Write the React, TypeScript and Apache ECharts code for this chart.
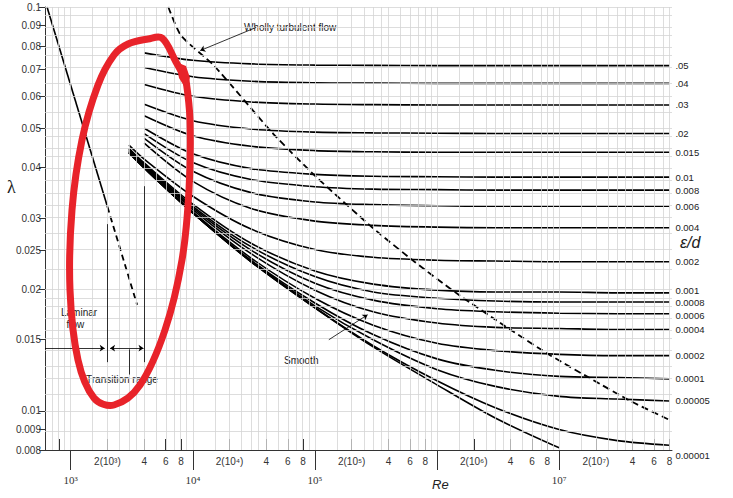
import React, { useEffect, useRef } from 'react';
import * as echarts from 'echarts';

const RE_GRID = [3e3, 4e3, 1e4, 3e4, 1e5, 3e5, 1e6, 3e6, 1e7, 3e7, 8e7];
const ROUGHNESS = ['.05', '.04', '.03', '.02', '0.015', '0.01', '0.008', '0.006', '0.004', '0.002', '0.001', '0.0008', '0.0006', '0.0004', '0.0002', '0.0001', '0.00005', '0.00001'];
const CURVES: (number | null)[][] = [
  [null, 0.0770, 0.0738, 0.0723, 0.0718, 0.0717, 0.0716, 0.0716, 0.0716, 0.0716, 0.0716],
  [null, 0.0708, 0.0672, 0.0655, 0.0649, 0.0648, 0.0647, 0.0647, 0.0647, 0.0647, 0.0647],
  [null, 0.0643, 0.0601, 0.0582, 0.0575, 0.0573, 0.0572, 0.0572, 0.0572, 0.0572, 0.0572],
  [null, 0.0574, 0.0523, 0.0499, 0.0490, 0.0488, 0.0487, 0.0486, 0.0486, 0.0486, 0.0486],
  [null, 0.0538, 0.0480, 0.0452, 0.0441, 0.0438, 0.0437, 0.0437, 0.0437, 0.0437, 0.0437],
  [null, 0.0501, 0.0433, 0.0398, 0.0385, 0.0381, 0.0380, 0.0379, 0.0379, 0.0379, 0.0379],
  [null, 0.0486, 0.0412, 0.0374, 0.0359, 0.0354, 0.0353, 0.0352, 0.0352, 0.0352, 0.0352],
  [null, 0.0473, 0.0392, 0.0347, 0.0329, 0.0324, 0.0322, 0.0321, 0.0321, 0.0321, 0.0321],
  [null, 0.0460, 0.0370, 0.0317, 0.0295, 0.0288, 0.0285, 0.0284, 0.0284, 0.0284, 0.0284],
  [0.0455, 0.0420, 0.0340, 0.0282, 0.0251, 0.0240, 0.0236, 0.0235, 0.0234, 0.0234, 0.0234],
  [0.0447, 0.0411, 0.0325, 0.0260, 0.0222, 0.0206, 0.0199, 0.0197, 0.0197, 0.0196, 0.0196],
  [0.0445, 0.0409, 0.0321, 0.0255, 0.0215, 0.0197, 0.0190, 0.0187, 0.0186, 0.0186, 0.0186],
  [0.0443, 0.0406, 0.0318, 0.0250, 0.0207, 0.0188, 0.0179, 0.0176, 0.01745, 0.0174, 0.0174],
  [0.0440, 0.0404, 0.0315, 0.0245, 0.0199, 0.0176, 0.0165, 0.0161, 0.0160, 0.0159, 0.0159],
  [0.0438, 0.0402, 0.0311, 0.0239, 0.0190, 0.0163, 0.0147, 0.0141, 0.0138, 0.0137, 0.0137],
  [0.0437, 0.0401, 0.0309, 0.0236, 0.0185, 0.01545, 0.01345, 0.0126, 0.01217, 0.0121, 0.0120],
  [0.0436, 0.0400, 0.0309, 0.0235, 0.0182, 0.0150, 0.01265, 0.0115, 0.01086, 0.0107, 0.01058],
  [0.0435, 0.0399, 0.0309, 0.0234, 0.0180, 0.0145, 0.01187, 0.01018, 0.00899, 0.00844, 0.00822],
];
const SMOOTH = [0.0435, 0.0399, 0.0309, 0.0234, 0.0180, 0.0144, 0.0116, 0.0096, 0.0081, null, null];
const LAMINAR_RE = [640, 2000];
const LAMINAR_L = [0.1, 0.032];
const LAMINAR_DASH_RE = [2000, 3500];
const LAMINAR_DASH_L = [0.032, 0.0183];
const TURB_RE = [6300, 8000, 1.49e4, 4.54e4, 1.03e5, 2.97e5, 6.54e5, 1.43e6, 3.97e6, 8.55e6, 1.83e7, 3.9e7, 8e7];
const TURB_L = [0.1, 0.085, 0.0716, 0.0486, 0.0379, 0.0284, 0.0234, 0.0196, 0.0159, 0.0137, 0.012, 0.01055, 0.0095];

const Y_LABELS = [0.1, 0.09, 0.08, 0.07, 0.06, 0.05, 0.04, 0.03, 0.025, 0.02, 0.015, 0.01, 0.009, 0.008];
const X_MINOR = [800, 2e3, 4e3, 6e3, 8e3, 2e4, 4e4, 6e4, 8e4, 2e5, 4e5, 6e5, 8e5, 2e6, 4e6, 6e6, 8e6, 2e7, 4e7, 6e7, 8e7];
const X_DECADES = [1e3, 1e4, 1e5, 1e6, 1e7];
const SUP = ['⁰', '¹', '²', '³', '⁴', '⁵', '⁶', '⁷', '⁸'];

const lg = Math.log10;
const near = (a: number, b: number) => Math.abs(a - b) < 1e-6;

const vGrid: number[] = [];
for (let k = 2; k <= 7; k++) for (const m of [1, 1.5, 2, 2.5, 3, 3.5, 4, 5, 6, 7, 8, 9]) { const v = m * 10 ** k; if (v > 616 && v < 8.4e7) vGrid.push(v); }
const hGrid: number[] = [];
for (let v = 8; v <= 20; v += 1) hGrid.push(v / 1000);
for (let v = 22.5; v <= 50; v += 2.5) hGrid.push(v / 1000);
for (let v = 55; v <= 100; v += 5) hGrid.push(v / 1000);

function xMinorLabel(re: number) {
  if (re === 800) return '';
  const k = Math.floor(lg(re) + 1e-9);
  const m = Math.round(re / 10 ** k);
  return m === 2 ? `2(10${SUP[k]})` : String(m);
}

export default function App() {
  const ref = useRef<HTMLDivElement>(null);
  useEffect(() => {
    if (!ref.current) return;
    const chart = echarts.init(ref.current, null, { renderer: 'svg' });
    const pts = (xs: number[], ys: (number | null)[]) =>
      xs.map((x, i) => [x, ys[i]]).filter(p => p[1] != null).map(p => [lg(p[0] as number), lg(p[1] as number)]);
    const base = { type: 'line', showSymbol: false, symbol: 'none', silent: true, smooth: 0.3, lineStyle: { color: '#000', width: 1.6 } } as any;
    const series: any[] = [];
    series.push({
      type: 'line', data: [], silent: true,
      markLine: {
        silent: true, symbol: 'none', label: { show: false }, animation: false,
        lineStyle: { color: '#d4d4d4', width: 0.8, type: 'solid' },
        data: [...vGrid.map(v => ({ xAxis: lg(v) })), ...hGrid.map(v => ({ yAxis: lg(v) }))],
      },
    });
    CURVES.forEach((c, i) => series.push({
      ...base, name: ROUGHNESS[i], data: pts(RE_GRID, c),
      endLabel: { show: true, formatter: ROUGHNESS[i], fontSize: 9.5, color: '#222', fontFamily: 'Liberation Sans', distance: 6, offset: [0, i === 17 ? 10 : i === 10 ? -2 : i === 12 ? 2 : 0] },
    }));
    series.push({ ...base, name: 'smooth', data: pts(RE_GRID, SMOOTH) });
    series.push({ ...base, smooth: false, data: pts(LAMINAR_RE, LAMINAR_L) });
    series.push({ ...base, smooth: false, data: pts(LAMINAR_DASH_RE, LAMINAR_DASH_L), lineStyle: { color: '#000', width: 1.8, type: [6, 4] } });
    series.push({
      ...base, smooth: 0.2, data: pts(TURB_RE, TURB_L), lineStyle: { color: '#000', width: 1.8, type: [7, 4] },
      markLine: {
        silent: true, symbol: ['none', 'arrow'], symbolSize: 5, label: { show: false },
        lineStyle: { color: '#000', width: 0.8, type: 'solid' },
        data: [
          [{ coord: [lg(2000), lg(0.029)] }, { coord: [lg(2000), lg(0.0132)], symbol: 'none' }],
          [{ coord: [lg(4000), lg(0.036)] }, { coord: [lg(4000), lg(0.0132)], symbol: 'none' }],
          [{ coord: [lg(3000), lg(0.0142)] }, { coord: [lg(3000), lg(0.0123)], symbol: 'none' }],
          [{ coord: [lg(616), lg(0.0143)] }, { coord: [lg(1900), lg(0.0143)] }],
          [{ coord: [lg(3000), lg(0.0143)] }, { coord: [lg(2100), lg(0.0143)] }],
          [{ coord: [lg(3000), lg(0.0143)] }, { coord: [lg(3950), lg(0.0143)] }],
          [{ coord: [lg(1.3e5), lg(0.015)] }, { coord: [lg(2.7e5), lg(0.0173)] }],
          [{ coord: [lg(3.3e4), lg(0.089)] }, { coord: [lg(1.15e4), lg(0.078)] }],
        ],
      },
    });
    const lab = { fontFamily: 'Liberation Sans', color: '#333', fontSize: 10 };
    chart.setOption({
      animation: false,
      grid: { left: 45, right: 61, top: 7, bottom: 48 },
      xAxis: [
        {
          type: 'value', min: lg(616), max: lg(8.4e7),
          axisLine: { lineStyle: { color: '#333' } },
          axisTick: { inside: true, length: 11, customValues: X_MINOR.map(lg), lineStyle: { color: '#333' } },
          axisLabel: { ...lab, margin: 6, customValues: X_MINOR.map(lg), formatter: (v: number) => xMinorLabel(X_MINOR.find(r => near(lg(r), v)) ?? 10 ** v) },
          splitLine: { show: false },
        },
        {
          type: 'value', position: 'bottom', min: lg(616), max: lg(8.4e7),
          axisLine: { show: false },
          axisTick: { length: 20, customValues: X_DECADES.map(lg), lineStyle: { color: '#333' } },
          axisLabel: { ...lab, fontFamily: 'Liberation Serif', fontSize: 11, margin: 24, customValues: X_DECADES.map(lg), formatter: (v: number) => { const k = Math.round(v); return k === 6 ? '' : `10${SUP[k]}`; } },
          splitLine: { show: false },
        },
      ],
      yAxis: {
        type: 'value', min: lg(0.008), max: lg(0.1),
        axisLine: { lineStyle: { color: '#333' } },
        axisTick: { length: 6, customValues: Y_LABELS.map(lg), lineStyle: { color: '#333' } },
        axisLabel: { ...lab, margin: 4, customValues: Y_LABELS.map(lg), formatter: (v: number) => String(Y_LABELS.find(y => near(lg(y), v)) ?? '') },
        splitLine: { show: false },
      },
      series,
      graphic: [
        { type: 'text', left: 7, top: 178, style: { text: 'λ', font: '18px Liberation Serif', fill: '#222' } },
        { type: 'text', left: 680, top: 234, style: { text: 'ε/d', font: 'italic 16px Liberation Sans', fill: '#222' } },
        { type: 'text', left: 432, top: 478, style: { text: 'Re', font: 'italic 13px Liberation Sans', fill: '#222' } },
        { type: 'text', left: 244, top: 22, style: { text: 'Wholly turbulent flow', font: '10px Liberation Sans', fill: '#222' } },
        { type: 'text', left: 284, top: 355, style: { text: 'Smooth', font: '10px Liberation Sans', fill: '#222' } },
        { type: 'text', left: 61, top: 306, style: { text: 'Laminar\n  flow', font: '10px Liberation Sans', fill: '#222', lineHeight: 12 } },
        { type: 'text', left: 86, top: 374, style: { text: 'Transition range', font: '10px Liberation Sans', fill: '#222' } },
        {
          type: 'polyline', z: 100, silent: true,
          shape: { smooth: 0.35, points: [[186, 80], [190, 120], [189, 190], [182, 260], [165, 330], [140, 385], [114, 405], [94, 398], [78, 360], [70, 290], [72, 210], [82, 140], [98, 85], [114, 55], [128, 44], [148, 39], [162, 38], [176, 62], [186, 80]] },
          style: { stroke: '#e8232a', lineWidth: 7, fill: 'none', lineCap: 'round', lineJoin: 'round' },
        },
        { type: 'polygon', z: 100, silent: true, shape: { points: [[176, 62], [186, 66], [190, 78], [184, 86], [179, 78]] }, style: { fill: '#e8232a' } },
      ],
    });
    return () => chart.dispose();
  }, []);
  return <div ref={ref} style={{ position: 'absolute', left: 0, top: 0, width: 733, height: 498 }} />;
}
